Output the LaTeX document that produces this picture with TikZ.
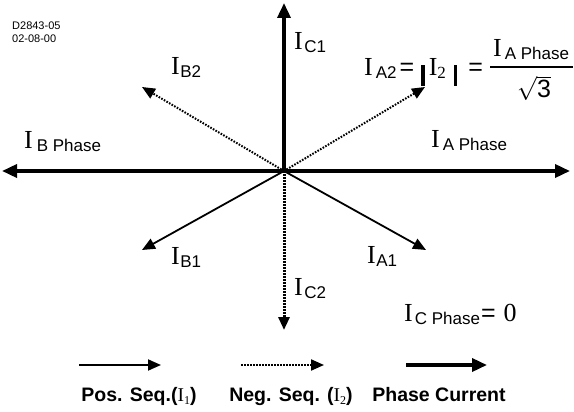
\documentclass[tikz,border=0pt]{standalone}
\usepackage{fix-cm}
\usepackage{fontspec}
\setmainfont{Liberation Serif}
\setsansfont{Liberation Sans}
\usetikzlibrary{arrows.meta}

\newcommand{\bigI}{{\rmfamily\fontsize{26}{26}\selectfont I}}
\newcommand{\cur}[2][1.5pt]{\bigI\kern#1\raisebox{-3pt}{\sffamily\fontsize{17}{17}\selectfont #2}}
\newcommand{\eqs}{{\sffamily\fontsize{25}{25}\selectfont =}}
\newcommand{\absbar}{\rule[-10pt]{3.5pt}{21pt}}

\tikzset{
	phasecur/.style={line width=3.5pt, -{Triangle[length=15pt,width=13pt]}},
	posseq/.style={line width=1.8pt, -{Triangle[length=13pt,width=11pt]}},
	negseq/.style={line width=2pt, dash pattern=on 1.6pt off 1.4pt, -{Triangle[length=13pt,width=11pt]}},
	lbl/.style={anchor=base west, inner sep=0pt},
	legend/.style={anchor=base, inner sep=0pt, font=\sffamily\bfseries\fontsize{19.5}{19.5}\selectfont}
}

\begin{document}
\begin{tikzpicture}[x=1pt, y=-1pt]
	\useasboundingbox (0,0) rectangle (574,412);
	
	\coordinate (O) at (284,171);
	
	% phasors
	\foreach \name/\x/\y/\kind in {
		Aph/570/171/phasecur,
		Bph/2/171/phasecur,
		C1/284/3/phasecur,
		A1/426/250/posseq,
		B1/142/250/posseq,
		A2/425/87/negseq,
		B2/142/87/negseq}
	{
		\coordinate (\name) at (\x,\y);
		\draw [\kind] (O) -- (\name);
	}
	\coordinate (C2) at (284,330);
	\draw [negseq, line width=3pt] (O) -- (C2);
	
	% labels
	\node [lbl, font=\sffamily\fontsize{11}{12.5}\selectfont, align=left, anchor=north west] at (12,22) (tag) {D2843-05\\02-08-00};
	\node [lbl] at (294,50) (lC1) {\cur{C1}};
	\node [lbl] at (171,75) (lB2) {\cur[0.5pt]{B2}};
	\node [lbl] at (24,149) (lBph) {\cur[4pt]{B Phase}};
	\node [lbl] at (431,148) (lAph) {\cur[3pt]{A Phase}};
	\node [lbl] at (171,264) (lB1) {\cur[0.5pt]{B1}};
	\node [lbl] at (367,263) (lA1) {\cur[0.5pt]{A1}};
	\node [lbl] at (294,295) (lC2) {\cur{C2}};
	\node [lbl] at (404,321) (lCph) {\cur[2pt]{C Phase}\kern1pt\eqs\kern8pt{\fontsize{26}{26}\selectfont 0}};
	
	% |I2| = I_A Phase / sqrt 3
	\node [lbl] at (364,76) (lA2) {\cur[3pt]{A2}\kern3pt\eqs\kern7pt\absbar\kern4pt\bigI\raisebox{-3pt}{\fontsize{17}{17}\selectfont 2}\kern8pt\absbar\kern11pt\eqs};
	\node [lbl] at (493,57) (num) {\cur[3pt]{A Phase}};
	\node [lbl] at (490,68.5) (fbar) {\rule{83pt}{2.2pt}};
	\node [anchor=base, inner sep=0pt] at (534,98) (den) {\fontsize{24}{24}\selectfont$\sqrt{\hbox{\sffamily\fontsize{25}{25}\selectfont 3}}$};
	
	% legend
	\foreach \name/\xa/\xb/\kind in {
		p/79/161/posseq,
		n/241/324/negseq,
		ph/406/487/phasecur}
	{
		\coordinate (\name s) at (\xa,365);
		\coordinate (\name e) at (\xb,365);
		\draw [\kind] (\name s) -- (\name e);
	}
	\node [legend] at (139,401) (tpos) {Pos. Seq.({\rmfamily\mdseries I\raisebox{-3pt}{\fontsize{12}{12}\selectfont 1}})};
	\node [legend] at (291,401) (tneg) {Neg. Seq. ({\rmfamily\mdseries I\raisebox{-3pt}{\fontsize{12}{12}\selectfont 2}})};
	\node [legend] at (439,401) (tph) {Phase Current};
\end{tikzpicture}
\end{document}
